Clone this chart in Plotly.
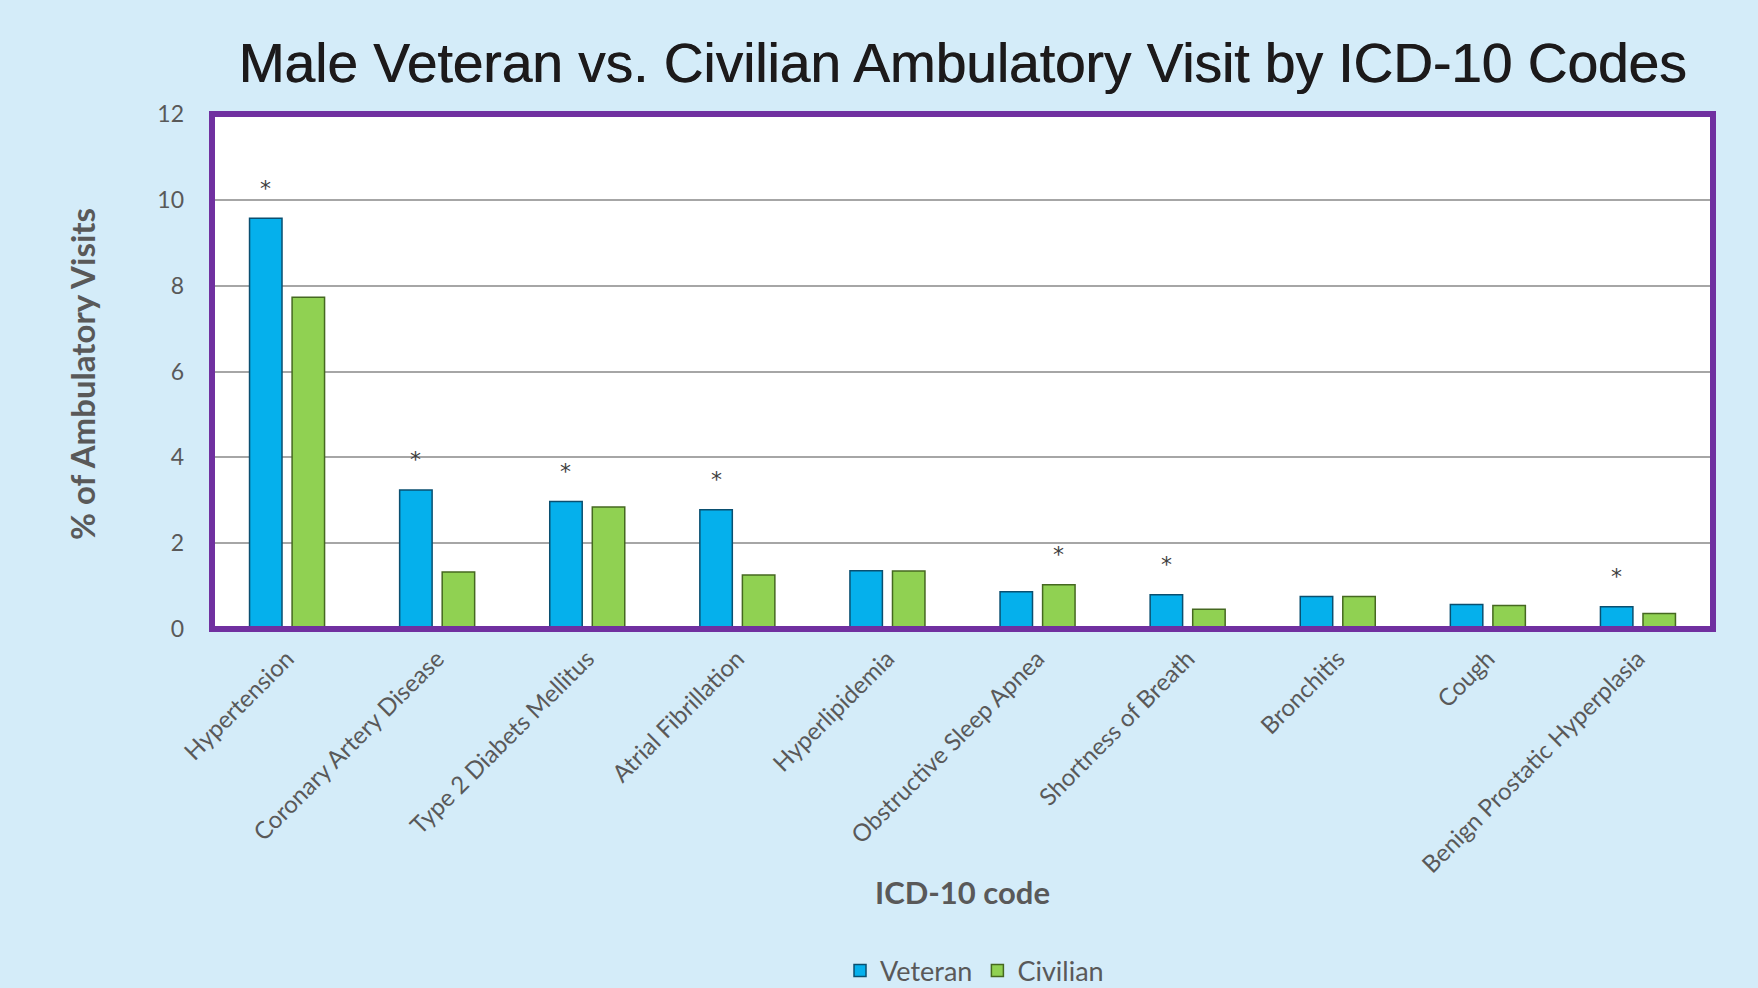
import plotly.graph_objects as go

categories = ["Hypertension", "Coronary Artery Disease", "Type 2 Diabets Mellitus",
              "Atrial Fibrillation", "Hyperlipidemia", "Obstructive Sleep Apnea",
              "Shortness of Breath", "Bronchitis", "Cough", "Benign Prostatic Hyperplasia"]
veteran = [9.57, 3.24, 2.97, 2.78, 1.36, 0.87, 0.80, 0.76, 0.57, 0.52]
civilian = [7.73, 1.33, 2.84, 1.26, 1.35, 1.03, 0.46, 0.76, 0.55, 0.36]
significant = ["Veteran", "Veteran", "Veteran", "Veteran", None, "Civilian",
               "Veteran", None, None, "Veteran"]
y_ticks = [0, 2, 4, 6, 8, 10, 12]

W, H = 1758, 988
L, R, T, B = 212, 45, 114, 359
BARGAP, GROUPGAP = 0.433, 0.237
FONT = "Lato, sans-serif"

fig = go.Figure()
fig.add_trace(go.Bar(name="Veteran", x=categories, y=veteran,
                     marker=dict(color="#05b0ec", line=dict(color="#0a4f70", width=1.5))))
fig.add_trace(go.Bar(name="Civilian", x=categories, y=civilian,
                     marker=dict(color="#90d152", line=dict(color="#456820", width=1.5))))

plot_w = W - L - R
plot_h = H - T - B
slot = plot_w / len(categories) * (1 - BARGAP) / 2
annotations = []
for cat, v, c, s in zip(categories, veteran, civilian, significant):
    if s is None:
        continue
    val = v if s == "Veteran" else c
    shift = -slot / 2 if s == "Veteran" else slot / 2
    annotations.append(dict(x=cat, y=val, xref="x", yref="y", text="*", showarrow=False,
                            xshift=shift, yshift=30, yanchor="middle",
                            font=dict(family="DejaVu Sans, sans-serif", size=22, color="#404040")))

annotations.append(dict(text="% of Ambulatory Visits", xref="paper", yref="paper",
                        x=(82 - L) / plot_w, y=(H - B - 374) / plot_h, textangle=-90,
                        showarrow=False, xanchor="center", yanchor="middle",
                        font=dict(family=FONT, size=33, color="#595959", weight="bold")))
annotations.append(dict(text="ICD-10 code", xref="paper", yref="paper",
                        x=0.5, y=(H - B - 892) / plot_h, showarrow=False,
                        xanchor="center", yanchor="middle",
                        font=dict(family=FONT, size=31, color="#595959", weight="bold")))

fig.update_layout(
    width=W, height=H,
    margin=dict(l=L, r=R, t=T, b=B, autoexpand=False),
    paper_bgcolor="#d4ecf9",
    plot_bgcolor="#ffffff",
    barmode="group", bargap=BARGAP, bargroupgap=GROUPGAP,
    title=dict(text="Male Veteran vs. Civilian Ambulatory Visit by ICD-10 Codes",
               x=0.5, xref="paper", xanchor="center", y=1 - 63 / H, yanchor="middle",
               font=dict(family="Liberation Sans, Arial, sans-serif", size=55, color="#1c1a1b",
                         shadow="0.7px 0 0 #1c1a1b")),
    xaxis=dict(tickangle=-45, tickfont=dict(family=FONT, size=24, color="#595959"),
               showline=False, showgrid=False, ticks="", ticklabelstandoff=10, automargin=False),
    yaxis=dict(range=[0, 12], tickvals=y_ticks, showgrid=True, gridcolor="#a6a6a6", gridwidth=2,
               zeroline=False, showline=False, ticks="", ticklabelstandoff=27, automargin=False,
               tickfont=dict(family=FONT, size=23, color="#595959")),
    legend=dict(orientation="h", x=0.508, xref="paper", xanchor="center",
                y=(H - B - 971) / plot_h, yanchor="middle",
                font=dict(family=FONT, size=27, color="#595959"),
                bgcolor="rgba(0,0,0,0)", itemwidth=30),
    annotations=annotations,
    shapes=[dict(type="rect", xref="paper", yref="paper", x0=0, x1=1, y0=0, y1=1,
                 line=dict(color="#7030a0", width=6), layer="above")],
    showlegend=True,
)

fig.write_html("out.html", config={"displayModeBar": False},
               post_script="document.body.style.margin='0';document.body.style.overflow='hidden';")
